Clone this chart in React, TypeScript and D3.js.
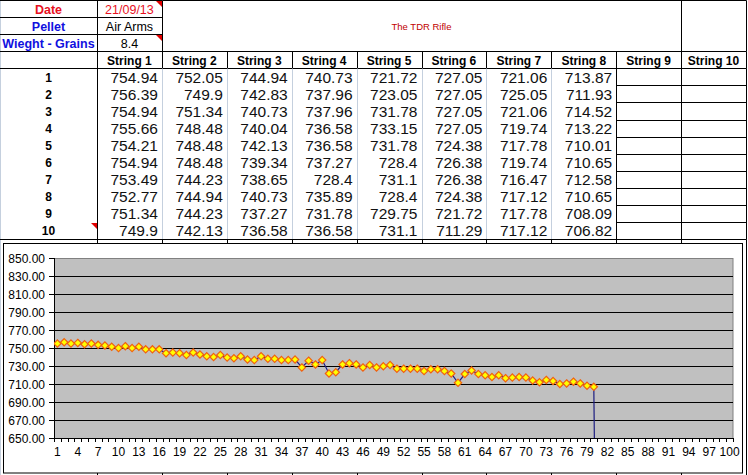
import { useEffect } from 'react';
import * as d3 from 'd3';

// chronograph readings, one array per string of 10 shots
const string1 = [754.94, 756.39, 754.94, 755.66, 754.21, 754.94, 753.49, 752.77, 751.34, 749.9];
const string2 = [752.05, 749.9, 751.34, 748.48, 748.48, 748.48, 744.23, 744.94, 744.23, 742.13];
const string3 = [744.94, 742.83, 740.73, 740.04, 742.13, 739.34, 738.65, 740.73, 737.27, 736.58];
const string4 = [740.73, 737.96, 737.96, 736.58, 736.58, 737.27, 728.4, 735.89, 731.78, 736.58];
const string5 = [721.72, 723.05, 731.78, 733.15, 731.78, 728.4, 731.1, 728.4, 729.75, 731.1];
const string6 = [727.05, 727.05, 727.05, 727.05, 724.38, 726.38, 726.38, 724.38, 721.72, 711.29];
const string7 = [721.06, 725.05, 721.06, 719.74, 717.78, 719.74, 716.47, 717.12, 717.78, 717.12];
const string8 = [713.87, 711.93, 714.52, 713.22, 710.01, 710.65, 712.58, 710.65, 708.09, 706.82];
// the empty String 9 cell that the chart range picks up, plotted as zero
const blankAsZero = [0];

const strings = [string1, string2, string3, string4, string5, string6, string7, string8];
const headerLabels = ['String 1', 'String 2', 'String 3', 'String 4', 'String 5', 'String 6', 'String 7', 'String 8', 'String 9', 'String 10'];
const shotLabels = ['1', '2', '3', '4', '5', '6', '7', '8', '9', '10'];
const yTicks = [650, 670, 690, 710, 730, 750, 770, 790, 810, 830, 850];
const xCategories = d3.range(1, 101);

const WIDTH = 748;
const HEIGHT = 475;
const FONT = '"Liberation Sans", Arial, sans-serif';
const GRID_LIGHT = '#c5d0de';

const PLOT = { left: 54, right: 733, top: 258, bottom: 438 };

export default function App() {
    useEffect(() => {
        document.body.style.margin = '0';
    }, []);

    // table geometry
    const colX = d3.scaleLinear().domain([0, 10]).range([97, 746]);
    const rowY = d3.scaleLinear().domain([0, 14]).range([0, 239]);
    const colEdges = d3.range(0, 11).map((i) => Math.round(colX(i)) + 0.5);
    const rowEdges = d3.range(0, 15).map((i) => Math.round(rowY(i)) + 0.5);

    // chart scales
    const values = strings.flat().concat(blankAsZero);
    const xScale = d3.scaleBand<number>().domain(xCategories).range([PLOT.left, PLOT.right]).padding(0);
    const yScale = d3.scaleLinear().domain([650, 850]).range([PLOT.bottom, PLOT.top]);
    const cx = (i: number) => (xScale(i + 1) ?? 0) + xScale.bandwidth() / 2;

    const linePath = d3
        .line<number>()
        .x((_, i) => cx(i))
        .y((d) => yScale(d))(values);

    const diamond = d3.symbol().type(d3.symbolDiamond2).size(34)() ?? '';

    const lines: JSX.Element[] = [];
    const hl = (key: string, x1: number, x2: number, y: number, stroke = '#000') =>
        lines.push(<line key={key} x1={x1} x2={x2} y1={y} y2={y} stroke={stroke} />);
    const vl = (key: string, x: number, y1: number, y2: number, stroke = '#000') =>
        lines.push(<line key={key} x1={x} x2={x} y1={y1} y2={y2} stroke={stroke} />);

    // spreadsheet left edge
    vl('edge', 0.5, 0, HEIGHT, GRID_LIGHT);
    // info block
    [0, 1, 2].forEach((r) => hl(`info-h${r}`, 0, colEdges[1], rowEdges[r]));
    vl('info-v0', colEdges[0], rowEdges[0], rowEdges[3]);
    vl('info-v1', colEdges[1], rowEdges[0], rowEdges[3]);
    // title block and column K block
    hl('title-top', colEdges[1], colEdges[10], rowEdges[0]);
    vl('title-r', colEdges[9], rowEdges[0], rowEdges[3]);
    vl('k-r', colEdges[10], rowEdges[0], rowEdges[3]);
    // header row
    hl('head-t', 0, colEdges[10], rowEdges[3]);
    hl('head-b', 0, colEdges[10], rowEdges[4]);
    colEdges.forEach((x, i) => vl(`head-v${i}`, x, rowEdges[3], rowEdges[4]));
    // data rows: String 9 and 10 cells are boxed, the rest only show sheet gridlines
    colEdges.forEach((x, i) => {
        const black = i === 0 || i >= 8;
        vl(`data-v${i}`, x, rowEdges[4], rowEdges[14], black ? '#000' : GRID_LIGHT);
        vl(`below-v${i}`, x, rowEdges[14], HEIGHT);
    });
    d3.range(5, 14).forEach((r) => hl(`ij-h${r}`, colEdges[8], colEdges[10], rowEdges[r]));
    hl('data-b', 0, colEdges[10], rowEdges[14]);

    const triangle = (key: string, x: number, y: number) => (
        <path key={key} d={`M${x - 6},${y} L${x},${y} L${x},${y + 6} Z`} fill="#e00000" />
    );

    const infoRows = [
        { label: 'Date', value: '21/09/13', labelColor: '#e8101e', valueColor: '#e8101e' },
        { label: 'Pellet', value: 'Air Arms', labelColor: '#1010e0', valueColor: '#000' },
        { label: 'Wieght - Grains', value: '8.4', labelColor: '#1010e0', valueColor: '#000' },
    ];

    return (
        <svg width={WIDTH} height={HEIGHT} style={{ display: 'block', fontFamily: FONT }}>
            <rect width={WIDTH} height={HEIGHT} fill="#fff" />
            {lines}

            {infoRows.map((d, i) => (
                <g key={d.label}>
                    <text x={48.5} y={rowY(i) + 13.5} textAnchor="middle" fontSize={12.5} fontWeight="bold" fill={d.labelColor}>
                        {d.label}
                    </text>
                    <text x={(colX(0) + colX(1)) / 2} y={rowY(i) + 13.5} textAnchor="middle" fontSize={12.5} fill={d.valueColor}>
                        {d.value}
                    </text>
                </g>
            ))}
            {triangle('tri-date', colEdges[1] - 0.5, 1)}
            {triangle('tri-weight', colEdges[1] - 0.5, rowEdges[2] + 0.5)}
            {triangle('tri-row10', colEdges[0] - 0.5, rowEdges[13] + 0.5)}

            <text x={(colX(1) + colX(9)) / 2} y={29.5} textAnchor="middle" fontSize={9.5} fill="#c00000">
                The TDR Rifle
            </text>

            {headerLabels.map((h, i) => (
                <text key={h} x={(colX(i) + colX(i + 1)) / 2} y={rowY(3) + 13.5} textAnchor="middle" fontSize={12} fontWeight="bold">
                    {h}
                </text>
            ))}
            {shotLabels.map((s, r) => (
                <text key={s} x={48.5} y={rowY(4 + r) + 13.5} textAnchor="middle" fontSize={12} fontWeight="bold">
                    {s}
                </text>
            ))}
            {strings.map((col, c) =>
                col.map((v, r) => (
                    <text key={`${c}-${r}`} x={colX(c + 1) - 4} y={rowY(4 + r) + 14.5} textAnchor="end" fontSize={15.5} fill="#111">
                        {String(v)}
                    </text>
                ))
            )}

            {/* chart object */}
            <rect x={3.5} y={243.5} width={739} height={229.5} fill="#fff" stroke="#000" />
            <defs>
                <clipPath id="plot-clip">
                    <rect x={PLOT.left} y={PLOT.top} width={PLOT.right - PLOT.left} height={PLOT.bottom - PLOT.top} />
                </clipPath>
            </defs>
            <rect
                x={PLOT.left + 0.5}
                y={PLOT.top + 0.5}
                width={PLOT.right - PLOT.left - 0.5}
                height={PLOT.bottom - PLOT.top}
                fill="#c0c0c0"
                stroke="#808080"
            />
            {yTicks.slice(1, -1).map((t) => (
                <line key={t} x1={PLOT.left} x2={PLOT.right} y1={Math.round(yScale(t)) + 0.5} y2={Math.round(yScale(t)) + 0.5} stroke="#000" />
            ))}
            {yTicks.map((t) => (
                <g key={`yt${t}`}>
                    <line x1={PLOT.left - 5} x2={PLOT.left} y1={Math.round(yScale(t)) + 0.5} y2={Math.round(yScale(t)) + 0.5} stroke="#000" />
                    <text x={45} y={yScale(t) + 4.5} textAnchor="end" fontSize={12}>
                        {t.toFixed(2)}
                    </text>
                </g>
            ))}
            <line x1={PLOT.left + 0.5} x2={PLOT.left + 0.5} y1={PLOT.top} y2={PLOT.bottom} stroke="#000" />
            <line x1={PLOT.left} x2={PLOT.right} y1={PLOT.bottom + 0.5} y2={PLOT.bottom + 0.5} stroke="#000" />
            {xCategories.concat([101]).map((c) => {
                const x = Math.round(c <= 100 ? xScale(c) ?? 0 : PLOT.right) + 0.5;
                return <line key={`xt${c}`} x1={x} x2={x} y1={PLOT.bottom} y2={PLOT.bottom + 4} stroke="#000" />;
            })}
            {xCategories
                .filter((c) => (c - 1) % 3 === 0)
                .map((c) => (
                    <text key={`xl${c}`} x={cx(c - 1)} y={456} textAnchor="middle" fontSize={12}>
                        {c}
                    </text>
                ))}

            <g clipPath="url(#plot-clip)">
                <path d={linePath ?? ''} fill="none" stroke="#1c1c80" strokeWidth={1.2} />
                {values.map((v, i) => (
                    <path key={i} d={diamond} transform={`translate(${cx(i)},${yScale(v)})`} fill="#ffff00" stroke="#f06010" strokeWidth={1.2} />
                ))}
            </g>
        </svg>
    );
}
